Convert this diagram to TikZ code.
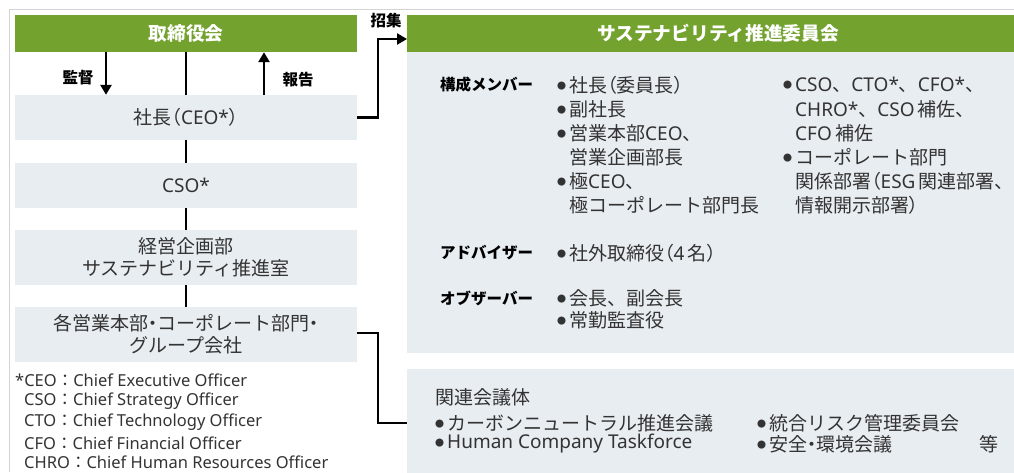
\documentclass[tikz,border=0pt]{standalone}
\usepackage{fontspec}
\setmainfont{Noto Sans CJK JP}
\newfontfamily\pf[RawFeature=+palt]{Noto Sans CJK JP}
\newfontfamily\latf{Noto Sans}
\usetikzlibrary{arrows.meta}
\definecolor{grn}{HTML}{73A22F}
\definecolor{lbg}{HTML}{E8EDF2}
\definecolor{txt}{HTML}{333333}
\definecolor{frm}{HTML}{D4D4D4}
\tikzset{
  gbox/.style={fill=grn, draw=none, inner sep=0pt, text=white, font=\fontsize{18.7}{20}\selectfont\bfseries},
  lbox/.style={fill=lbg, draw=none, inner sep=0pt, text=txt, align=center, font=\fontsize{19}{22}\selectfont},
  conn/.style={line width=2.6pt, black},
  arr/.style={conn, -{Triangle[length=10pt,width=11pt]}},
  lbl/.style={font=\fontsize{15.5}{17}\selectfont\bfseries, text=black, inner sep=0pt},
  mem/.style={anchor=west, inner sep=0pt, text=txt, font=\fontsize{19}{21}\selectfont},
  foot/.style={anchor=west, inner sep=0pt, text=txt, font=\fontsize{16.5}{19}\selectfont},
}
\newcommand{\Bul}{\makebox[12pt][l]{\fontsize{9}{9}\selectfont\raisebox{2.8pt}{●}}}
\newcommand{\NoBul}{\hspace*{12pt}}
\newcommand{\Lpar}{{\pf （}}
\newcommand{\Rpar}{{\pf ）}}
\newcommand{\Pdot}{{\pf ・}}
\begin{document}
\begin{tikzpicture}[x=1pt,y=-1pt]
\useasboundingbox (0,0) rectangle (1014,472);
\fill[white] (0,0) rectangle (1014,472);
\draw[frm, line width=1pt] (9,472) -- (9,9) -- (1014,9);
% left column
\node[gbox, minimum width=342pt, minimum height=37pt] (board) at (186,33.5) {取締役会};
\node[lbox, minimum width=342pt, minimum height=45pt] (ceo) at (186,117.5) {社長\Lpar{\latf CEO*}\Rpar};
\node[lbox, minimum width=342pt, minimum height=45pt] (cso) at (186,185.5) {{\latf CSO*}};
\node[lbox, minimum width=342pt, minimum height=55pt] (plan) at (186,257.5) {経営企画部\\サステナビリティ推進室};
\node[lbox, minimum width=342pt, minimum height=55pt] (bu) at (186,334.5) {各営業本部\Pdot コーポレート部門\Pdot\\グループ会社};
\draw[conn] (board.south) -- (ceo.north);
\draw[conn] (ceo.south) -- (cso.north);
\draw[conn] (cso.south) -- (plan.north);
\draw[conn] (plan.south) -- (bu.north);
\draw[arr] (board.south -| 106,0) -- (ceo.north -| 106,0);
\draw[arr] (ceo.north -| 264,0) -- (board.south -| 264,0);
\node[lbl] (kantoku) at (78,78) {監督};
\node[lbl] (hokoku) at (298,80) {報告};
% right
\node[lbox, minimum width=623pt, minimum height=301pt, anchor=north west] (cmt) at (407,52) {};
\node[gbox, minimum width=623pt, minimum height=37pt, anchor=north west] (cmtt) at (407,15) {};
\node[gbox] (cmttext) at (718,33.5) {サステナビリティ推進委員会};
\node[lbox, minimum width=623pt, minimum height=110pt, anchor=north west] (rel) at (407,369) {};
\draw[conn, -{Triangle[length=10pt,width=11pt]}] (ceo.east |- 0,117.5) -| (378,39) -- (cmtt.west |- 0,39);
\node[lbl] (shoshu) at (386,21) {招集};
\draw[conn] (bu.east |- 0,333) -| (378,423) -- (rel.west |- 0,423);
% members
\node[lbl, anchor=west] (l1) at (440,85) {構成メンバー};
\node[mem] (m1) at (557,85) {\Bul 社長\Lpar 委員長\Rpar};
\node[mem] (m2) at (557,109) {\Bul 副社長};
\node[mem] (m3) at (557,133) {\Bul 営業本部{\latf CEO}、};
\node[mem] (m4) at (557,157) {\NoBul 営業企画部長};
\node[mem] (m5) at (557,181) {\Bul 極{\latf CEO}、};
\node[mem] (m6) at (557,205) {\NoBul 極コーポレート部門長};
\node[mem] (n1) at (783,85) {\Bul{\latf CSO}、{\latf CTO*}、{\latf CFO*}、};
\node[mem] (n2) at (783,109) {\NoBul{\latf CHRO*}、{\latf CSO}\,補佐、};
\node[mem] (n3) at (783,133) {\NoBul{\latf CFO}\,補佐};
\node[mem] (n4) at (783,157) {\Bul コーポレート部門};
\node[mem] (n5) at (783,181) {\NoBul 関係部署\Lpar{\latf ESG}\,関連部署、};
\node[mem] (n6) at (783,205) {\NoBul 情報開示部署\Rpar};
\node[lbl, anchor=west] (l2) at (440,253) {アドバイザー};
\node[mem] (a1) at (557,253) {\Bul 社外取締役\Lpar{\latf 4}\,名\Rpar};
\node[lbl, anchor=west] (l3) at (440,298) {オブザーバー};
\node[mem] (o1) at (557,298) {\Bul 会長、副会長};
\node[mem] (o2) at (557,320) {\Bul 常勤監査役};
% related
\node[mem] (r0) at (435,397) {関連会議体};
\node[mem] (r1) at (435,423) {\Bul カーボンニュートラル推進会議};
\node[mem] (r2) at (435,444) {\Bul{\latf Human Company Taskforce}};
\node[mem] (r3) at (757,423) {\Bul 統合リスク管理委員会};
\node[mem] (r4) at (757,444) {\Bul 安全\Pdot 環境会議};
\node[mem] (r5) at (979,444) {等};
% footnotes
\node[foot] (f1) at (15,380) {{\latf *CEO}：{\latf Chief Executive Officer}};
\node[foot] (f2) at (24,401) {{\latf CSO}：{\latf Chief Strategy Officer}};
\node[foot] (f3) at (24,422) {{\latf CTO}：{\latf Chief Technology Officer}};
\node[foot] (f4) at (24,443) {{\latf CFO}：{\latf Chief Financial Officer}};
\node[foot] (f5) at (24,462.5) {{\latf CHRO}：{\latf Chief Human Resources Officer}};
\end{tikzpicture}
\end{document}
